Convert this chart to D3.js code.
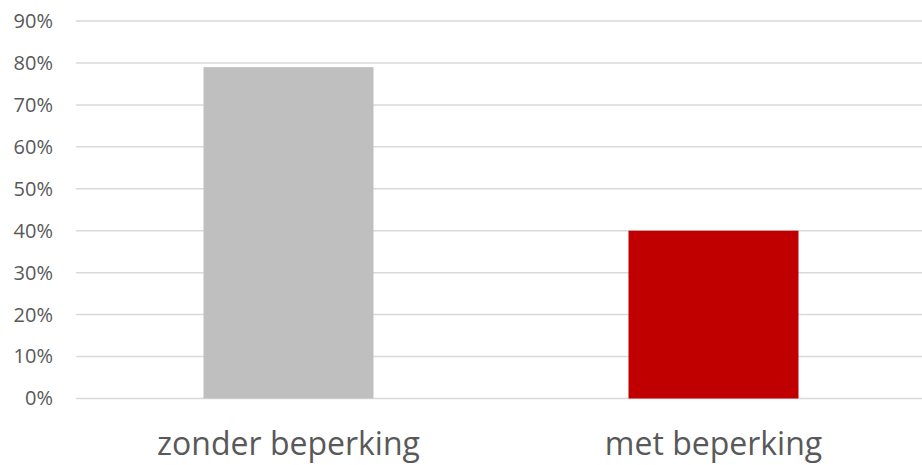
<!DOCTYPE html>
<html>
<head>
<meta charset="utf-8">
<script src="https://cdn.jsdelivr.net/npm/d3@7"></script>
<style>
  body { margin: 0; background: #fff; }
  svg { display: block; }
</style>
</head>
<body>
<svg width="922" height="465"></svg>
<script>
// data
const categories = ['zonder beperking', 'met beperking']
const values = [0.79, 0.40]
const colors = ['#bfbfbf', '#c00000']
const yTicks = [0, 0.1, 0.2, 0.3, 0.4, 0.5, 0.6, 0.7, 0.8, 0.9]

const w = 922
const h = 465
const svg = d3.select('svg')

//scales
const x = d3.scaleBand()
    .domain(categories)
    .range([76, 926])
    .paddingInner(0.6)
    .paddingOuter(0.3)
const y = d3.scaleLinear()
    .domain([0, 0.9])
    .range([398.5, 21])

//gridlines
svg.append('g')
    .selectAll('line')
    .data(yTicks)
    .enter()
    .append('line')
    .attr('x1', 76)
    .attr('x2', w)
    .attr('y1', d => y(d))
    .attr('y2', d => y(d))
    .attr('stroke', '#d9d9d9')
    .attr('stroke-width', 1.5)

//bars
svg.append('g')
    .selectAll('rect')
    .data(values)
    .enter()
    .append('rect')
    .attr('x', (_, i) => x(categories[i]))
    .attr('width', x.bandwidth())
    .attr('y', d => y(d))
    .attr('height', d => y(0) - y(d))
    .attr('fill', (_, i) => colors[i])

//y axis
const yAxis = d3.axisLeft(y)
    .tickValues(yTicks)
    .tickFormat(d3.format('.0%'))
    .tickSize(0)
    .tickPadding(0)
const yg = svg.append('g')
    .attr('transform', 'translate(53,0)')
    .call(yAxis)
yg.attr('font-family', '"Open Sans", sans-serif')
yg.select('.domain').remove()
yg.selectAll('text')
    .attr('fill', '#595959')
    .style('font-size', '20px')

//x axis
const xAxis = d3.axisBottom(x)
    .tickSize(0)
    .tickPadding(0)
const xg = svg.append('g')
    .attr('transform', 'translate(0,455)')
    .call(xAxis)
xg.attr('font-family', '"Open Sans", sans-serif')
xg.select('.domain').remove()
xg.selectAll('text')
    .attr('y', 0)
    .attr('dy', 0)
    .attr('fill', '#595959')
    .style('font-size', '32px')
</script>
</body>
</html>
